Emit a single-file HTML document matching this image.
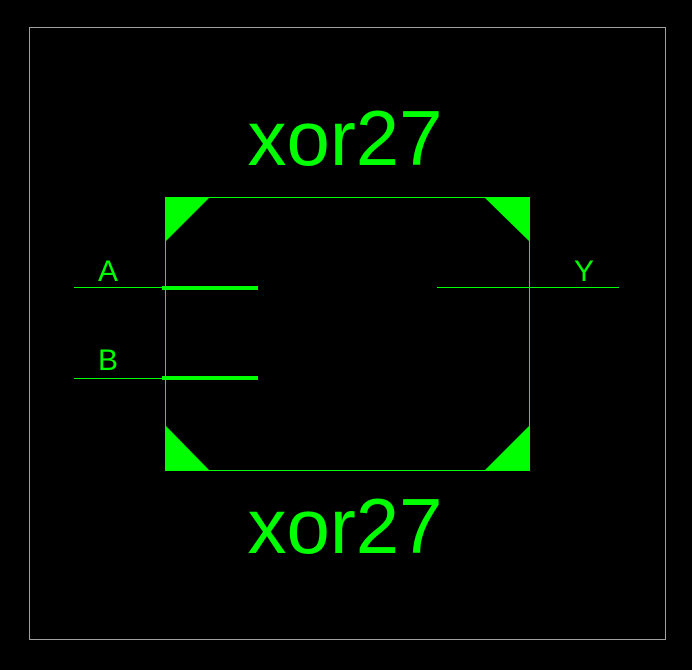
<!DOCTYPE html>
<html><head><meta charset="utf-8"><style>
html,body{margin:0;padding:0;background:#000;width:692px;height:670px;overflow:hidden}
text{font-family:"Liberation Sans",sans-serif;fill:#00ff00}
line,rect{shape-rendering:crispEdges}
</style></head><body>
<svg width="692" height="670" viewBox="0 0 692 670">
<rect x="29.5" y="27.5" width="636" height="612" fill="none" stroke="#a0a0a0" stroke-width="1"/>
<text x="345" y="165" font-size="78" text-anchor="middle">xor27</text>
<text x="345" y="553" font-size="78" text-anchor="middle">xor27</text>
<g>
<rect x="165.5" y="197.5" width="364" height="273" fill="none" stroke="#00ff00" stroke-width="1"/>
<polygon points="165,197 210,197 165,242" fill="#00ff00"/>
<polygon points="484,197 530,197 530,242" fill="#00ff00"/>
<polygon points="165,425 165,471 210,471" fill="#00ff00"/>
<polygon points="530,425 530,471 484,471" fill="#00ff00"/>
</g>
<g>
<line x1="74" y1="287.5" x2="165" y2="287.5" stroke="#00ff00" stroke-width="1"/>
<line x1="162" y1="288" x2="258" y2="288" stroke="#00ff00" stroke-width="4"/>
<text x="108" y="281" font-size="30" text-anchor="middle">A</text>
</g>
<g>
<line x1="74" y1="378.5" x2="165" y2="378.5" stroke="#00ff00" stroke-width="1"/>
<line x1="162" y1="378" x2="258" y2="378" stroke="#00ff00" stroke-width="4"/>
<text x="108" y="370" font-size="30" text-anchor="middle">B</text>
</g>
<g>
<line x1="437" y1="287.5" x2="619" y2="287.5" stroke="#00ff00" stroke-width="1"/>
<text x="584" y="281" font-size="30" text-anchor="middle">Y</text>
</g>
</svg>
</body></html>
